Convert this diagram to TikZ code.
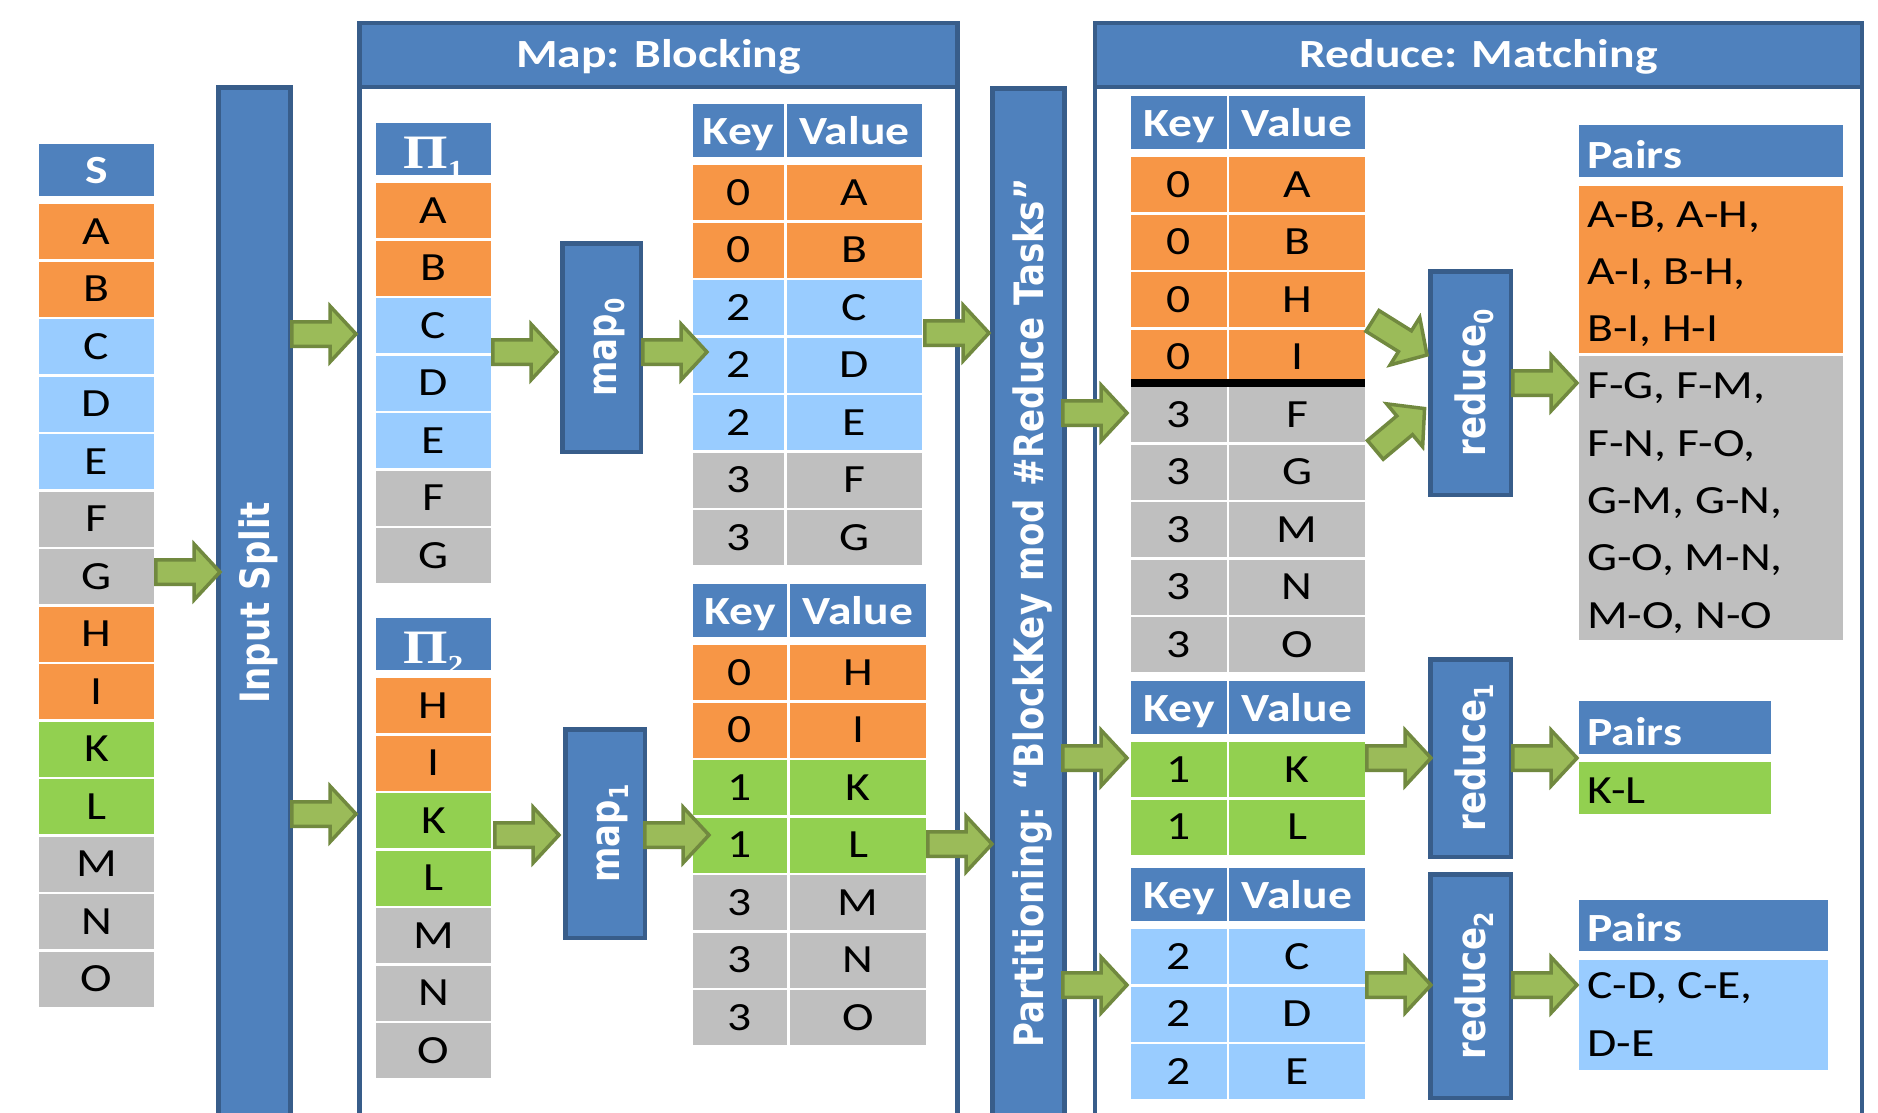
\documentclass[tikz,border=0pt]{standalone}
\usepackage{fontspec}
\usepackage{graphicx}
\newfontfamily\calfont{Carlito}
\newfontfamily\verdfont{DejaVu Sans}
\newfontfamily\timesfont{Liberation Serif}
\definecolor{hblue}{HTML}{4F81BD}
\definecolor{bdark}{HTML}{385D8A}
\definecolor{corange}{HTML}{F79646}
\definecolor{clblue}{HTML}{99CCFF}
\definecolor{cgray}{HTML}{BFBFBF}
\definecolor{cgreen}{HTML}{92D050}
\definecolor{afill}{HTML}{9BBB59}
\definecolor{aline}{HTML}{71893F}
\newcommand\sx[1]{\scalebox{1.19}[1]{#1}}
\newcommand\sy[1]{\scalebox{1}[1.19]{#1}}
\newcommand\sub[1]{\raisebox{-7pt}{\fontsize{22}{22}\selectfont #1}}
% name, x1, x2, ytop, ybot, fill, text
\newcommand\cell[7]{\node[cellnode, fill=#6, minimum width={(#3-#2)*1pt}, minimum height={(#5-#4)*1pt}] (#1) at ({(#2+#3)/2},{(#4+#5)/2}) {#7};}
\newcommand\hcell[6]{\node[cellnode, fill=hblue, text=white, font=\calfont\bfseries\fontsize{40}{48}\selectfont, text height=27.5pt, minimum width={(#3-#2)*1pt}, minimum height={(#5-#4)*1pt}] (#1) at ({(#2+#3)/2},{(#4+#5)/2}) {#6};}
\tikzset{
  cellnode/.style={rectangle, draw=none, inner sep=0pt, outer sep=0pt, font=\calfont\fontsize{40}{48}\selectfont, text height=25.8pt, text depth=0pt},
  framebody/.style={draw=bdark, line width=4.5pt, fill=white},
  titlebar/.style={rectangle, fill=hblue, draw=bdark, line width=4.5pt, inner sep=0pt, text=white, font=\calfont\bfseries\fontsize{40}{48}\selectfont, text height=25.8pt, text depth=0pt},
  barrect/.style={fill=hblue, draw=bdark, line width=4.5pt},
  bartxt/.style={rotate=90, text=white, font=\verdfont\bfseries\fontsize{34}{40}\selectfont, inner sep=0pt, text height=29.5pt, text depth=0pt},
  procbox/.style={rectangle, rotate=90, fill=hblue, draw=bdark, line width=4.5pt, inner sep=0pt, text=white, font=\verdfont\bfseries\fontsize{34}{40}\selectfont, text height=29.5pt, text depth=0pt},
  pairtxt/.style={anchor=base west, inner sep=0pt, font=\calfont\fontsize{40}{48}\selectfont},
  pairhdr/.style={anchor=base west, inner sep=0pt, text=white, font=\calfont\bfseries\fontsize{40}{48}\selectfont},
  pitxt/.style={anchor=base, inner sep=0pt, text=white, font=\timesfont\bfseries\fontsize{48}{48}\selectfont},
  blockarrow/.style={fill=afill, draw=aline, line width=3.5pt, miter limit=10},
  garrow/.pic={\draw[blockarrow] (1.75,-12.25) -- (40,-12.25) -- (40,-28) -- (66,0) -- (40,28) -- (40,12.25) -- (1.75,12.25) -- cycle;}
}
\begin{document}
\begin{tikzpicture}[x=1pt,y=-1pt]
\useasboundingbox (0,0) rectangle (1878,1112);
\fill[white] (0,0) rectangle (1878,1112);

% ---------- frames ----------
\draw[framebody] (359.5,23) rectangle (957.5,1140);
\node[titlebar, minimum width=598pt, minimum height=64pt] (maptitle) at (658.5,55) {\sx{Map: Blocking}};
\draw[framebody] (1095,23) rectangle (1862,1140);
\node[titlebar, minimum width=767pt, minimum height=64pt] (redtitle) at (1478.5,55) {\sx{Reduce: Matching}};

% ---------- bars ----------
\draw[barrect] (218.5,87.5) rectangle (290.5,1140);
\node[bartxt] (splittxt) at (254.5,603) {\sy{Input Split}};
\draw[barrect] (992.5,88.5) rectangle (1064.5,1140);
\node[bartxt] (parttxt) at (1028.5,613) {\sy{Partitioning: “BlockKey mod \#Reduce Tasks”}};

% ---------- S column ----------
\hcell{sh}{39}{154}{144}{196}{\sx{S}}
\foreach \t/\c [count=\i from 0] in {A/corange,B/corange,C/clblue,D/clblue,E/clblue,F/cgray,G/cgray,H/corange,I/corange,K/cgreen,L/cgreen,M/cgray,N/cgray,O/cgray}{
  \pgfmathsetmacro\yt{204+57.5*\i}
  \cell{s\i}{39}{154}{\yt}{\yt+55}{\c}{\sx{\t}}
}

% ---------- Pi columns ----------
\fill[hblue] (376,123) rectangle (491,175);
\node[pitxt] (pi1) at (433.5,168) {\sx{Π\raisebox{-10pt}{\fontsize{26}{26}\selectfont 1}}};
\foreach \t/\c [count=\i from 0] in {A/corange,B/corange,C/clblue,D/clblue,E/clblue,F/cgray,G/cgray}{
  \pgfmathsetmacro\yt{183+57.5*\i}
  \cell{pa\i}{376}{491}{\yt}{\yt+55}{\c}{\sx{\t}}
}
\fill[hblue] (376,618) rectangle (491,670);
\node[pitxt] (pi2) at (433.5,663) {\sx{Π\raisebox{-10pt}{\fontsize{26}{26}\selectfont 2}}};
\foreach \t/\c [count=\i from 0] in {H/corange,I/corange,K/cgreen,L/cgreen,M/cgray,N/cgray,O/cgray}{
  \pgfmathsetmacro\yt{678+57.5*\i}
  \cell{pb\i}{376}{491}{\yt}{\yt+55}{\c}{\sx{\t}}
}

% ---------- map boxes ----------
\node[procbox, minimum width=208.5pt, minimum height=78.5pt] (map0) at (601.5,347.5) {\sy{map\sub{0}}};
\node[procbox, minimum width=208.5pt, minimum height=79.5pt] (map1) at (605,833.5) {\sy{map\sub{1}}};

% ---------- map output tables ----------
\hcell{mak}{693}{784}{104}{157}{\sx{Key}}
\hcell{mav}{787}{922}{104}{157}{\sx{Value}}
\foreach \k/\v/\c [count=\i from 0] in {0/A/corange,0/B/corange,2/C/clblue,2/D/clblue,2/E/clblue,3/F/cgray,3/G/cgray}{
  \pgfmathsetmacro\yt{165+57.5*\i}
  \cell{mak\i}{693}{784}{\yt}{\yt+55}{\c}{\sx{\k}}
  \cell{mav\i}{787}{922}{\yt}{\yt+55}{\c}{\sx{\v}}
}
\hcell{mbk}{693}{787}{584}{637}{\sx{Key}}
\hcell{mbv}{790}{926}{584}{637}{\sx{Value}}
\foreach \k/\v/\c [count=\i from 0] in {0/H/corange,0/I/corange,1/K/cgreen,1/L/cgreen,3/M/cgray,3/N/cgray,3/O/cgray}{
  \pgfmathsetmacro\yt{645+57.5*\i}
  \cell{mbk\i}{693}{787}{\yt}{\yt+55}{\c}{\sx{\k}}
  \cell{mbv\i}{790}{926}{\yt}{\yt+55}{\c}{\sx{\v}}
}

% ---------- reduce input tables ----------
\hcell{rak}{1131}{1227}{96}{149}{\sx{Key}}
\hcell{rav}{1229}{1365}{96}{149}{\sx{Value}}
\foreach \k/\v/\c [count=\i from 0] in {0/A/corange,0/B/corange,0/H/corange,0/I/corange,3/F/cgray,3/G/cgray,3/M/cgray,3/N/cgray,3/O/cgray}{
  \pgfmathsetmacro\yt{157+57.5*\i}
  \cell{rak\i}{1131}{1227}{\yt}{\yt+55}{\c}{\sx{\k}}
  \cell{rav\i}{1229}{1365}{\yt}{\yt+55}{\c}{\sx{\v}}
}
\fill[black] (1131,379) rectangle (1365,387);
\hcell{rbk}{1131}{1227}{681}{734}{\sx{Key}}
\hcell{rbv}{1229}{1365}{681}{734}{\sx{Value}}
\foreach \k/\v/\c [count=\i from 0] in {1/K/cgreen,1/L/cgreen}{
  \pgfmathsetmacro\yt{742+57.5*\i}
  \cell{rbk\i}{1131}{1227}{\yt}{\yt+55}{\c}{\sx{\k}}
  \cell{rbv\i}{1229}{1365}{\yt}{\yt+55}{\c}{\sx{\v}}
}
\hcell{rck}{1131}{1227}{868}{921}{\sx{Key}}
\hcell{rcv}{1229}{1365}{868}{921}{\sx{Value}}
\foreach \k/\v/\c [count=\i from 0] in {2/C/clblue,2/D/clblue,2/E/clblue}{
  \pgfmathsetmacro\yt{929+57.5*\i}
  \cell{rck\i}{1131}{1227}{\yt}{\yt+55}{\c}{\sx{\k}}
  \cell{rcv\i}{1229}{1365}{\yt}{\yt+55}{\c}{\sx{\v}}
}

% ---------- reduce boxes ----------
\node[procbox, minimum width=223.5pt, minimum height=80.5pt] (red0) at (1470.5,383) {\sy{reduce\sub{0}}};
\node[procbox, minimum width=197.5pt, minimum height=80.5pt] (red1) at (1470.5,758) {\sy{reduce\sub{1}}};
\node[procbox, minimum width=223.5pt, minimum height=80.5pt] (red2) at (1470.5,986) {\sy{reduce\sub{2}}};

% ---------- pairs ----------
\fill[hblue] (1579,125) rectangle (1843,177);
\node[pairhdr] (p0h) at (1587,168) {\sx{Pairs}};
\fill[corange] (1579,186) rectangle (1843,353);
\fill[cgray] (1579,356) rectangle (1843,640);
\foreach \t [count=\i from 0] in {{A-B, A-H,},{A-I, B-H,},{B-I, H-I},{F-G, F-M,},{F-N, F-O,},{G-M, G-N,},{G-O, M-N,},{M-O, N-O}}{
  \node[pairtxt] (p0l\i) at (1587,{227+57.3*\i}) {\sx{\t}};
}
\fill[hblue] (1579,701) rectangle (1771,754);
\node[pairhdr] (p1h) at (1587,745) {\sx{Pairs}};
\fill[cgreen] (1579,762) rectangle (1771,814);
\node[pairtxt] (p1l) at (1587,803) {\sx{K-L}};
\fill[hblue] (1579,900) rectangle (1828,951);
\node[pairhdr] (p2h) at (1587,941) {\sx{Pairs}};
\fill[clblue] (1579,960) rectangle (1828,1070);
\node[pairtxt] (p2l0) at (1587,998) {\sx{C-D, C-E,}};
\node[pairtxt] (p2l1) at (1587,1056) {\sx{D-E}};

% ---------- block arrows ----------
\coordinate (a1) at (154,572);
\coordinate (a2) at (290,334);
\coordinate (a3) at (290,814);
\coordinate (a4) at (491,352);
\coordinate (a5) at (493,835);
\coordinate (a6) at (641,352);
\coordinate (a7) at (643,835);
\coordinate (a8) at (923,333);
\coordinate (a9) at (926,844);
\coordinate (a10) at (1061,413);
\coordinate (a11) at (1061,758);
\coordinate (a12) at (1061,985);
\coordinate (a13) at (1371,320);
\coordinate (a14) at (1374,451);
\coordinate (a15) at (1365,758);
\coordinate (a16) at (1365,985);
\coordinate (a17) at (1511,383);
\coordinate (a18) at (1511,758);
\coordinate (a19) at (1511,985);
\foreach \a in {a1,a2,a3,a4,a5,a6,a7,a8,a9,a10,a11,a12,a15,a16,a17,a18,a19}{
  \pic at (\a) {garrow};
}
\pic[rotate=-32] at (a13) {garrow};
\pic[rotate=40] at (a14) {garrow};
\end{tikzpicture}
\end{document}
